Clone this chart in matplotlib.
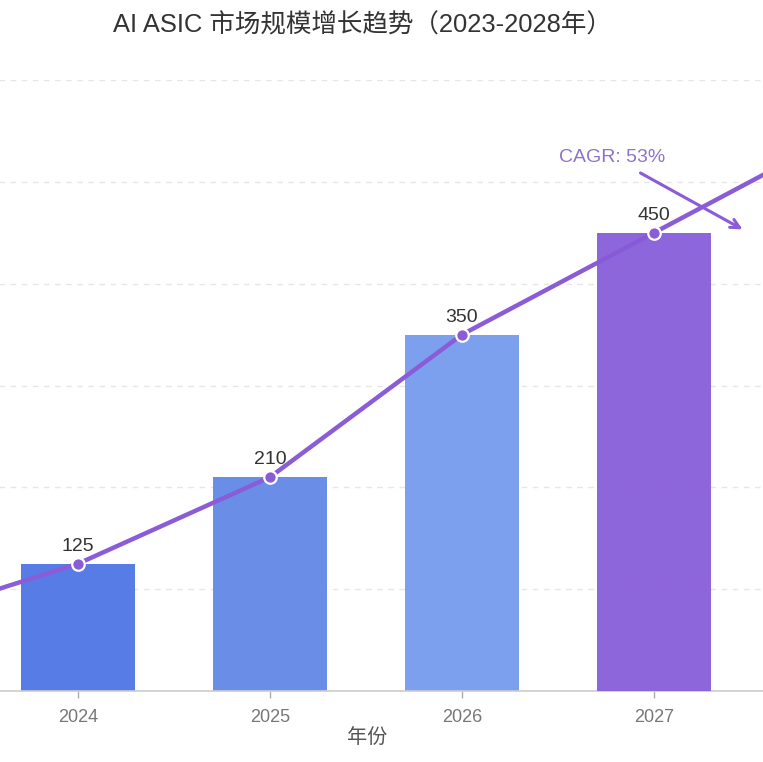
import numpy as np
import matplotlib
matplotlib.use("Agg")
import matplotlib.pyplot as plt

plt.rcParams['font.family'] = ['Liberation Sans', 'Noto Sans CJK SC', 'DejaVu Sans']

# data (2023 and 2028 fall outside the cropped view)
years = ['2023', '2024', '2025', '2026', '2027', '2028']
market_size = [65, 125, 210, 350, 450, 550]
bar_colors = ['#4f6fe0', '#587ce6', '#6a8ee8', '#7ca0ee', '#865ad9', '#8a5cd8']
cagr_text = 'CAGR: 53%'

W, H = 763, 762
fig = plt.figure(figsize=(W / 100, H / 100), dpi=100)

# the reference is a crop of a wider chart: the axes run past both figure edges
cat_w = 192.0
left_px = 78 - 1.5 * cat_w
ax = fig.add_axes([left_px / W, (H - 691) / H, 6 * cat_w / W, (691 - 80) / H])

x = np.arange(len(years))
line_c = '#8a5cd8'
visible = range(1, 5)  # categories inside the cropped view

for i in range(len(years)):
    top = (i == 4)
    ax.bar(x[i], market_size[i], width=0.59, color=bar_colors[i],
           zorder=4 if top else 2, alpha=0.93 if top else 1.0)

ax.plot(x, market_size, color=line_c, lw=3.2, zorder=3, solid_capstyle='round')
ax.plot(x, market_size, 'o', ms=9, color=line_c, mec='white', mew=1.6, zorder=5)

for i in visible:
    ax.text(x[i], market_size[i] + 17, str(market_size[i]), ha='center', va='center',
            fontsize=14, color='#333333', zorder=6)

# CAGR arrow and label
ax.annotate('', xy=(4.474, 452), xytext=(3.917, 510),
            arrowprops=dict(arrowstyle='->', color=line_c, lw=2.2,
                            mutation_scale=16), zorder=6)
ax.text(3.78, 524, cagr_text, ha='center', va='center', fontsize=14,
        color='#8e72c8', zorder=6)

ax.set_xlim(-0.5, 5.5)
ax.set_ylim(0, 600)
ax.set_yticks([100, 200, 300, 400, 500, 600])
ax.yaxis.grid(True, linestyle=(0, (4, 4)), color='#e6e6e6', lw=1)
ax.set_axisbelow(True)
ax.tick_params(axis='y', left=False, labelleft=False)
ax.set_xticks(x)
ax.set_xticklabels([y if i in visible else '' for i, y in enumerate(years)],
                   fontsize=13, color='#777777')
ax.tick_params(axis='x', length=5, width=1, color='#aaaaaa', pad=8)
for s in ['top', 'right', 'left']:
    ax.spines[s].set_visible(False)
ax.spines['bottom'].set_color('#cccccc')
ax.spines['bottom'].set_linewidth(1.2)

fig.text(367 / W, 1 - 737 / H, '年份', ha='center', va='center', fontsize=14.5,
         color='#555555')
fig.text(362 / W, 1 - 25 / H, 'AI ASIC 市场规模增长趋势（2023-2028年）', ha='center',
         va='center', fontsize=18.4, color='#333333')

fig.savefig('out.png', dpi=100, facecolor='white')
